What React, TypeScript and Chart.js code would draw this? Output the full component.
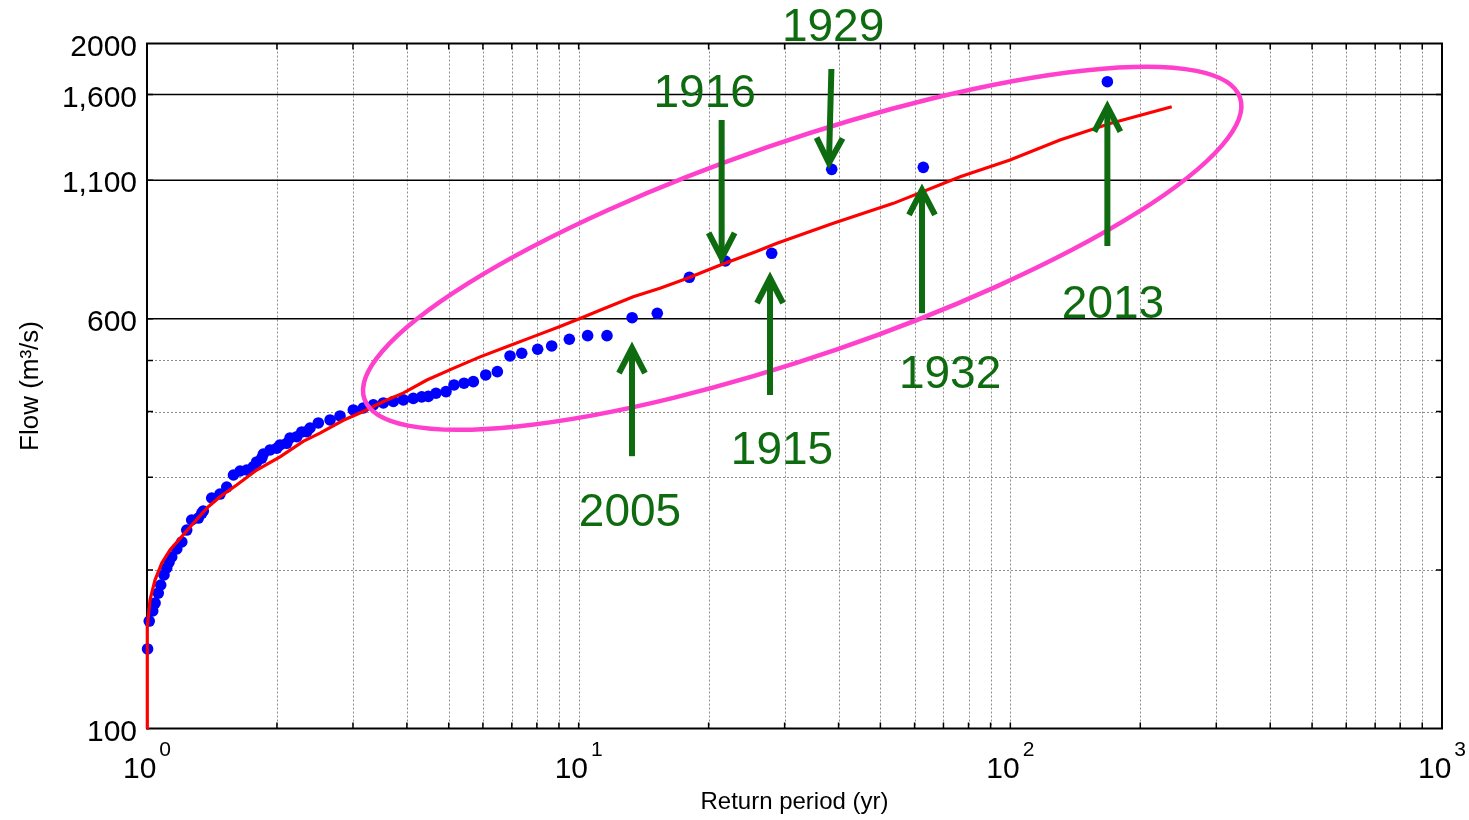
import React, { useEffect, useRef } from 'react';
import { Chart, registerables } from 'chart.js';

Chart.register(...registerables);

// Observed annual peaks: return period (yr) and flow (m3/s)
const returnPeriod = [
  1.003, 1.012, 1.031, 1.044, 1.062, 1.076, 1.095, 1.111, 1.125, 1.141,
  1.172, 1.204, 1.236, 1.269, 1.315, 1.339, 1.35, 1.412, 1.476, 1.53,
  1.586, 1.643, 1.702, 1.763, 1.795, 1.844, 1.86, 1.928, 1.998, 2.033,
  2.107, 2.145, 2.223, 2.283, 2.344, 2.386, 2.494, 2.655, 2.8, 3.006,
  3.171, 3.345, 3.528, 3.721, 3.925, 4.139, 4.329, 4.484, 4.672, 4.928,
  5.143, 5.425, 5.701, 6.091, 6.48, 6.934, 7.381, 8.036, 8.66, 9.514,
  10.49, 11.63, 13.3, 15.21, 18.05, 21.87, 28.0, 38.57, 62.86, 167.8,
];
const observedFlow = [
  141.6, 160.0, 167.2, 173.1, 180.8, 187.3, 195.7, 201.8, 207.1, 211.7,
  219.3, 226.1, 238.2, 248.9, 251.0, 256.3, 258.9, 274.0, 278.8, 287.4,
  303.0, 308.4, 309.7, 314.2, 320.8, 326.1, 332.2, 338.1, 340.6, 345.6,
  348.1, 356.3, 358.3, 365.8, 366.3, 372.2, 380.5, 385.5, 392.3, 402.7,
  406.3, 411.7, 415.3, 418.0, 420.8, 423.6, 426.4, 427.3, 433.3, 436.4,
  449.3, 452.7, 455.8, 469.4, 476.2, 510.0, 516.1, 525.2, 532.8, 548.7,
  557.4, 557.4, 602.9, 614.6, 719.4, 772.5, 799.0, 1153.5, 1163.6, 1692.3,
];

// Fitted frequency curve
const fitPeriod = [
  1.0, 1.0016, 1.0161, 1.0436, 1.0816, 1.1305, 1.2035, 1.2803, 1.3869, 1.4762,
  1.6134, 1.7951, 2.033, 2.3, 2.516, 2.85, 3.17, 3.53, 3.93, 4.45,
  5.12, 5.91, 6.81, 7.85, 9.05, 10.07, 11.2, 13.38, 15.43, 17.8,
  21.3, 25.8, 28.8, 38.9, 53.6, 76.5, 99.8, 130.3, 170.2, 236.5,
];
const fitFlow = [
  100, 156.1, 175.4, 191.4, 206.0, 218.3, 231.4, 245.3, 263.8, 275.5,
  290.0, 309.7, 328, 351, 364, 385, 400, 418, 434, 459,
  483, 508, 531, 555, 580, 601, 623, 661, 686, 716,
  759, 805, 835, 911, 994, 1117, 1202, 1311, 1410, 1517,
];

// Axis ticks
const xTickValues = [1, 10, 100, 1000];
const xTickExponents = ['0', '1', '2', '3'];
const yTickValues = [100, 600, 1100, 1600, 2000];
const yTickLabels = ['100', '600', '1,100', '1,600', '2000'];
const yMajorGrid = [600, 1100, 1600];
const yMinorGrid = [200, 300, 400, 500];
const xGridValues = [
  2, 3, 4, 5, 6, 7, 8, 9, 10,
  20, 30, 40, 50, 60, 70, 80, 90, 100,
  200, 300, 400, 500, 600, 700, 800, 900,
];

// Highlighted flood events: label anchor (baseline centre) and arrow tail/head
const eventYears = ['1929', '1916', '2005', '1915', '1932', '2013'];
const labelPeriod = [38.85, 19.58, 13.15, 29.58, 72.5, 172.9];
const labelFlow = [2022, 1517, 242.6, 317.9, 443.4, 602.1];
const arrowTailPeriod = [38.5, 21.44, 13.29, 27.75, 62.42, 167.8];
const arrowTailFlow = [1789, 1431, 329, 430, 615, 825];
const arrowHeadPeriod = [38.0, 21.44, 13.29, 27.75, 62.42, 167.8];
const arrowHeadFlow = [1186, 783, 528, 717, 1054, 1517];

// Outline around the large events
const ringCenter = { period: 32.95, flow: 816.8 };
const ringRadii = { major: 463, minor: 107 };
const ringTiltDeg = -19.0;

const FONT = '"Liberation Sans", Arial, Helvetica, sans-serif';
const GREEN = '#0f6b0f';
const PINK = '#ff40cc';

const axesPlugin = {
  id: 'boxedAxes',
  beforeDatasetsDraw(chart: any) {
    const { ctx, chartArea: a, scales } = chart;
    const xs = scales.x;
    const ys = scales.y;
    ctx.save();

    // dotted minor grid
    ctx.strokeStyle = '#8c8c8c';
    ctx.lineWidth = 1;
    ctx.setLineDash([2, 2]);
    ctx.beginPath();
    xGridValues.forEach((v) => {
      const px = Math.round(xs.getPixelForValue(v)) + 0.5;
      ctx.moveTo(px, a.top);
      ctx.lineTo(px, a.bottom);
    });
    yMinorGrid.forEach((v) => {
      const py = Math.round(ys.getPixelForValue(v)) + 0.5;
      ctx.moveTo(a.left, py);
      ctx.lineTo(a.right, py);
    });
    ctx.stroke();
    ctx.setLineDash([]);

    // solid major grid
    ctx.strokeStyle = '#000';
    ctx.lineWidth = 1.5;
    ctx.beginPath();
    yMajorGrid.forEach((v) => {
      const py = ys.getPixelForValue(v);
      ctx.moveTo(a.left, py);
      ctx.lineTo(a.right, py);
    });
    ctx.stroke();

    // frame
    ctx.lineWidth = 2;
    ctx.strokeRect(a.left, a.top, a.right - a.left, a.bottom - a.top);

    // inward tick marks
    const tl = 6;
    ctx.lineWidth = 1.5;
    ctx.beginPath();
    xGridValues.forEach((v) => {
      const px = xs.getPixelForValue(v);
      ctx.moveTo(px, a.bottom);
      ctx.lineTo(px, a.bottom - tl);
      ctx.moveTo(px, a.top);
      ctx.lineTo(px, a.top + tl);
    });
    [...yMinorGrid, ...yMajorGrid].forEach((v) => {
      const py = ys.getPixelForValue(v);
      ctx.moveTo(a.left, py);
      ctx.lineTo(a.left + tl, py);
      ctx.moveTo(a.right, py);
      ctx.lineTo(a.right - tl, py);
    });
    ctx.stroke();
    ctx.restore();
  },
  afterDatasetsDraw(chart: any) {
    const { ctx, scales } = chart;
    const xs = scales.x;
    const ys = scales.y;
    ctx.save();

    // ring
    ctx.strokeStyle = PINK;
    ctx.lineWidth = 4.5;
    ctx.beginPath();
    ctx.ellipse(
      xs.getPixelForValue(ringCenter.period),
      ys.getPixelForValue(ringCenter.flow),
      ringRadii.major,
      ringRadii.minor,
      (ringTiltDeg * Math.PI) / 180,
      0,
      Math.PI * 2,
    );
    ctx.stroke();

    // arrows
    ctx.strokeStyle = GREEN;
    ctx.fillStyle = GREEN;
    ctx.lineWidth = 6;
    ctx.lineCap = 'butt';
    ctx.lineJoin = 'miter';
    eventYears.forEach((_, i) => {
      const tx = xs.getPixelForValue(arrowTailPeriod[i]);
      const ty = ys.getPixelForValue(arrowTailFlow[i]);
      const hx = xs.getPixelForValue(arrowHeadPeriod[i]);
      const hy = ys.getPixelForValue(arrowHeadFlow[i]);
      const len = Math.hypot(hx - tx, hy - ty);
      const ux = (hx - tx) / len;
      const uy = (hy - ty) / len;
      const back = 25;
      const half = 13;
      ctx.beginPath();
      ctx.moveTo(tx, ty);
      ctx.lineTo(hx - ux * 3, hy - uy * 3);
      ctx.stroke();
      ctx.beginPath();
      ctx.moveTo(hx - ux * back - uy * half, hy - uy * back + ux * half);
      ctx.lineTo(hx, hy);
      ctx.lineTo(hx - ux * back + uy * half, hy - uy * back - ux * half);
      ctx.stroke();
    });

    // event labels
    ctx.font = `46px ${FONT}`;
    ctx.textAlign = 'center';
    ctx.textBaseline = 'alphabetic';
    eventYears.forEach((yr, i) => {
      ctx.fillText(yr, xs.getPixelForValue(labelPeriod[i]), ys.getPixelForValue(labelFlow[i]));
    });
    ctx.restore();
  },
  afterDraw(chart: any) {
    const { ctx, chartArea: a, scales } = chart;
    const xs = scales.x;
    const ys = scales.y;
    ctx.save();
    ctx.fillStyle = '#000';
    ctx.textBaseline = 'alphabetic';

    // y tick labels
    ctx.font = `30px ${FONT}`;
    ctx.textAlign = 'right';
    yTickValues.forEach((v, i) => {
      ctx.fillText(yTickLabels[i], a.left - 10, ys.getPixelForValue(v) + 12);
    });

    // x tick labels with exponents
    ctx.textAlign = 'left';
    xTickValues.forEach((v, i) => {
      const px = xs.getPixelForValue(v);
      ctx.font = `30px ${FONT}`;
      const bw = ctx.measureText('10').width;
      ctx.font = `21px ${FONT}`;
      const sw = ctx.measureText(xTickExponents[i]).width;
      const x0 = px - (bw + 3 + sw) / 2;
      ctx.font = `30px ${FONT}`;
      ctx.fillText('10', x0, a.bottom + 49.5);
      ctx.font = `21px ${FONT}`;
      ctx.fillText(xTickExponents[i], x0 + bw + 3, a.bottom + 27);
    });

    // axis titles
    ctx.font = `24px ${FONT}`;
    ctx.textAlign = 'center';
    ctx.fillText('Return period (yr)', (a.left + a.right) / 2, a.bottom + 80.5);

    ctx.font = `26px ${FONT}`;
    ctx.translate(38, (a.top + a.bottom) / 2);
    ctx.rotate(-Math.PI / 2);
    ctx.fillText('Flow (m³/s)', 0, 0);
    ctx.restore();
  },
};

export default function App() {
  const canvasRef = useRef<HTMLCanvasElement>(null);

  useEffect(() => {
    const canvas = canvasRef.current;
    if (!canvas) return;
    const chart = new Chart(canvas, {
      type: 'scatter',
      data: {
        datasets: [
          {
            label: 'Fitted',
            data: fitPeriod.map((t, i) => ({ x: t, y: fitFlow[i] })),
            showLine: true,
            borderColor: '#ff0000',
            backgroundColor: '#ff0000',
            borderWidth: 3.2,
            pointRadius: 0,
            pointHoverRadius: 0,
            tension: 0,
            clip: false,
          },
          {
            label: 'Observed',
            data: returnPeriod.map((t, i) => ({ x: t, y: observedFlow[i] })),
            showLine: false,
            pointRadius: 5.8,
            pointHoverRadius: 5.8,
            pointBorderWidth: 0,
            backgroundColor: '#0000ff',
            borderColor: '#0000ff',
            clip: false,
          },
        ],
      },
      options: {
        animation: false,
        responsive: false,
        devicePixelRatio: 1,
        layout: { padding: { left: 147, right: 27, top: 43.5, bottom: 91.5 } },
        plugins: { legend: { display: false }, tooltip: { enabled: false } },
        events: [],
        scales: {
          x: { type: 'logarithmic', min: 1, max: 1000, display: false },
          y: { type: 'logarithmic', min: 100, max: 2000, display: false },
        },
      },
      plugins: [axesPlugin],
    });
    return () => chart.destroy();
  }, []);

  return (
    <div style={{ position: 'fixed', left: 0, top: 0, width: 1469, height: 820, background: '#fff' }}>
      <canvas ref={canvasRef} width={1469} height={820} style={{ display: 'block' }} />
    </div>
  );
}
